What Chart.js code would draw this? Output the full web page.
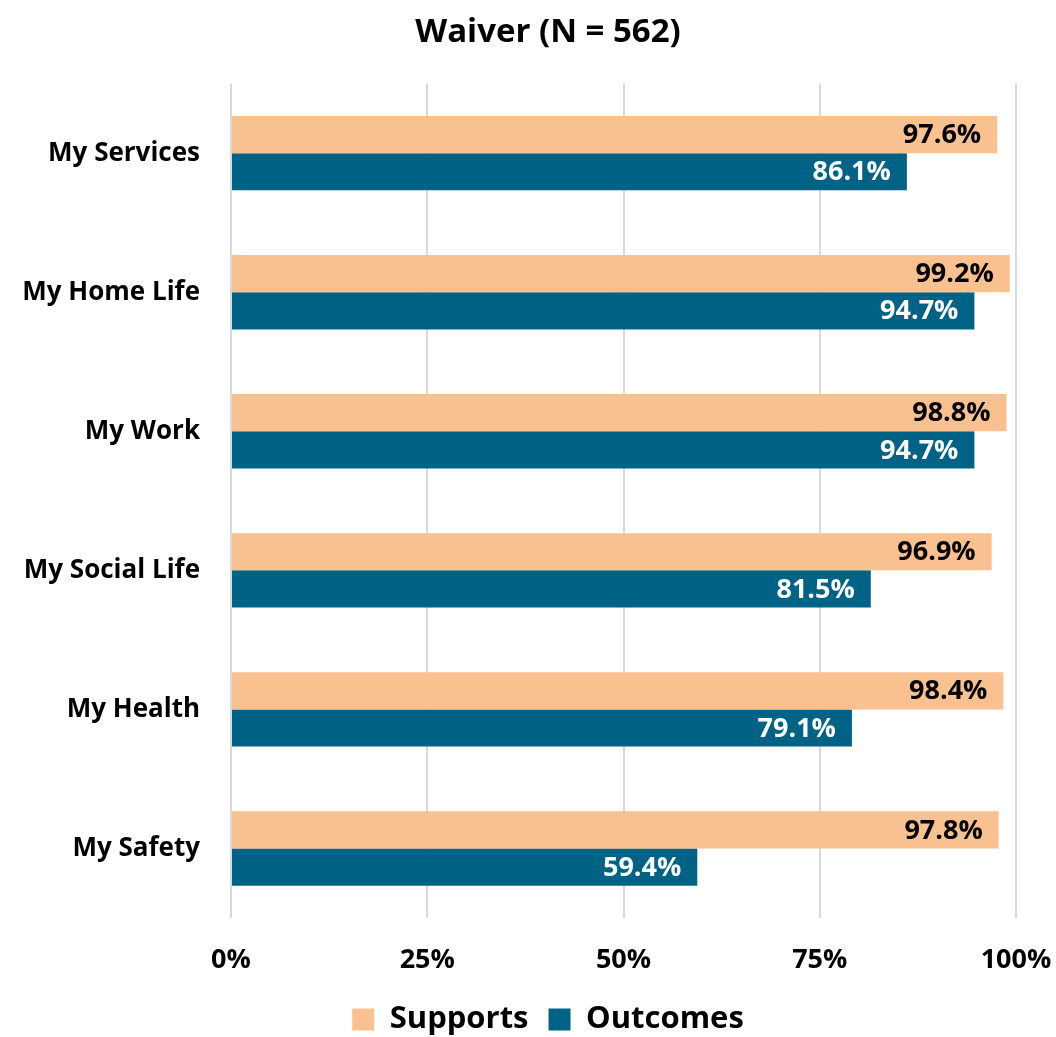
<!DOCTYPE html>
<html>
<head>
<meta charset="utf-8">
<script src="https://cdn.jsdelivr.net/npm/chart.js@4.4.0/dist/chart.umd.min.js"></script>
<style>
  html, body { margin: 0; padding: 0; background: #fff; }
  #wrap { width: 1056px; height: 1037px; }
</style>
</head>
<body>
<div id="wrap"><canvas id="c" width="1056" height="1037"></canvas></div>
<script>
const categories = ["My Services", "My Home Life", "My Work", "My Social Life", "My Health", "My Safety"];
const supports = [97.6, 99.2, 98.8, 96.9, 98.4, 97.8];
const outcomes = [86.1, 94.7, 94.7, 81.5, 79.1, 59.4];
const xTicks = [0, 25, 50, 75, 100];
const FONT = "'Open Sans', sans-serif";

const labelPlugin = {
  id: 'barLabels',
  afterDatasetsDraw(chart) {
    const ctx = chart.ctx;
    ctx.save();
    ctx.font = "bold 27px " + FONT;
    ctx.textAlign = 'right';
    ctx.textBaseline = 'middle';
    chart.data.datasets.forEach((ds, di) => {
      const meta = chart.getDatasetMeta(di);
      meta.data.forEach((bar, i) => {
        ctx.fillStyle = di === 0 ? '#000000' : '#ffffff';
        ctx.fillText(ds.data[i].toFixed(1) + '%', bar.x - 16, bar.y + 1);
      });
    });
    ctx.restore();
  }
};

new Chart(document.getElementById('c'), {
  type: 'bar',
  data: {
    labels: categories,
    datasets: [
      { label: 'Supports', data: supports, backgroundColor: '#F9C190', borderWidth: 0,
        categoryPercentage: 0.535, barPercentage: 1.0 },
      { label: 'Outcomes', data: outcomes, backgroundColor: '#006385', borderWidth: 0,
        categoryPercentage: 0.535, barPercentage: 1.0 }
    ]
  },
  options: {
    indexAxis: 'y',
    responsive: false,
    animation: false,
    layout: { padding: { left: 8, right: -32, top: 0, bottom: -8 } },
    plugins: {
      title: {
        display: true,
        text: 'Waiver (N = 562)',
        color: '#000',
        font: { family: FONT, size: 33, weight: 'bold' },
        padding: { top: 13, bottom: 31 }
      },
      legend: {
        position: 'bottom',
        labels: {
          color: '#000',
          font: { family: FONT, size: 31, weight: 'bold' },
          boxWidth: 22, boxHeight: 22, padding: 20
        }
      },
      tooltip: { enabled: false }
    },
    scales: {
      x: {
        min: 0, max: 100,
        afterBuildTicks(scale) { scale.ticks = xTicks.map(v => ({ value: v })); },
        afterFit(scale) { scale.height = 66; scale.paddingRight = 40; scale.paddingLeft = 0; },
        grid: { color: '#D9D9D9', lineWidth: 2, drawTicks: false },
        border: { display: false },
        ticks: {
          color: '#000', padding: 26,
          font: { family: FONT, size: 27, weight: 'bold' },
          callback: v => v + '%'
        }
      },
      y: {
        afterFit(scale) { scale.width = 223; },
        grid: { display: false },
        border: { display: false },
        ticks: {
          color: '#000', padding: 23,
          font: { family: FONT, size: 26, weight: 'bold' }
        }
      }
    }
  },
  plugins: [labelPlugin]
});
</script>
</body>
</html>
